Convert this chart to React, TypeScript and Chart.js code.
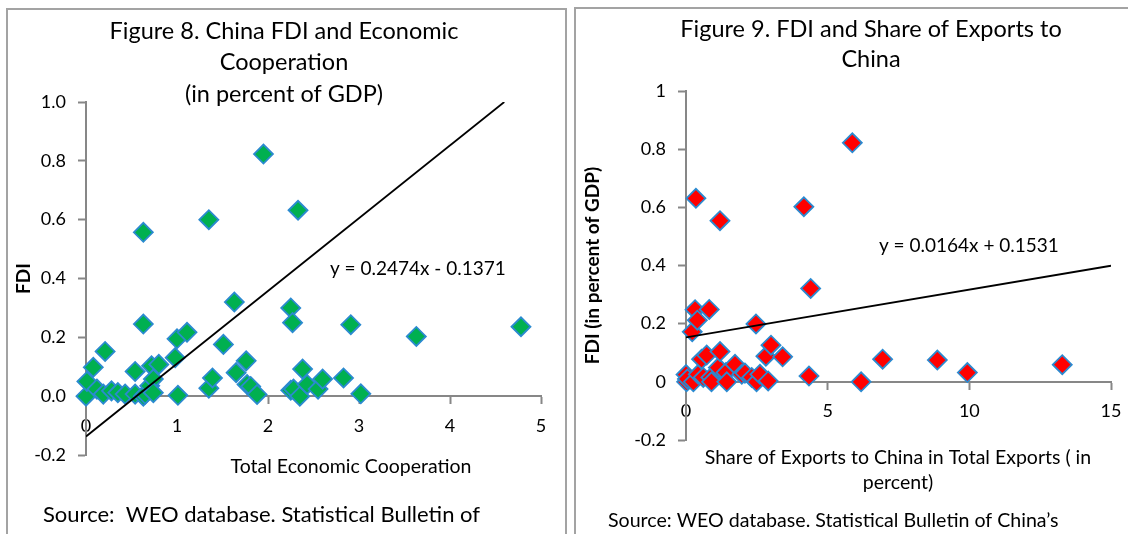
import React, { useEffect, useRef } from "react";
import { Chart, registerables } from "chart.js";

Chart.register(...registerables);

const FONT = "Lato, 'Noto Sans', sans-serif";

// ---------- Figure 8 data ----------
const fig8Title = ["Figure 8. China FDI and Economic", "Cooperation", "(in percent of GDP)"];
const fig8XTitle = ["Total Economic Cooperation"];
const fig8YTitle = "FDI";
const fig8Source = "Source:  WEO database. Statistical Bulletin of";
const fig8Equation = "y = 0.2474x - 0.1371";
const fig8XTicks = [0, 1, 2, 3, 4, 5];
const fig8YTicks = [-0.2, 0, 0.2, 0.4, 0.6, 0.8, 1.0];
const fig8Coop = [
  0.0, 0.01, 0.08, 0.12, 0.19, 0.21, 0.28, 0.35, 0.43, 0.54,
  0.54, 0.63, 0.63, 0.63, 0.65, 0.7, 0.72, 0.74, 0.74, 0.8,
  0.98, 1.0, 1.01, 1.11, 1.35, 1.35, 1.39, 1.51, 1.63, 1.65,
  1.76, 1.77, 1.81, 1.88, 1.95, 2.25, 2.25, 2.27, 2.28, 2.33,
  2.35, 2.38, 2.43, 2.55, 2.6, 2.83, 2.91, 3.02, 3.63, 4.78,
];
const fig8Fdi = [
  0.0, 0.05, 0.098, 0.024, 0.007, 0.152, 0.018, 0.012, 0.007, 0.084,
  0.007, 0.557, 0.245, 0.0, 0.007, 0.035, 0.103, 0.058, 0.012, 0.108,
  0.131, 0.195, 0.003, 0.217, 0.6, 0.027, 0.062, 0.176, 0.32, 0.08,
  0.12, 0.04, 0.033, 0.006, 0.823, 0.3, 0.02, 0.25, 0.024, 0.632,
  0.0, 0.092, 0.04, 0.024, 0.058, 0.062, 0.243, 0.008, 0.203, 0.236,
];
const fig8Slope = 0.2474;
const fig8Intercept = -0.1371;
const fig8TrendX = [0, 4.596];

// ---------- Figure 9 data ----------
const fig9Title = ["Figure 9. FDI and Share of Exports to", "China"];
const fig9XTitle = ["Share of Exports to China in Total Exports ( in", "percent)"];
const fig9YTitle = "FDI (in percent of GDP)";
const fig9Source = "Source: WEO database. Statistical Bulletin of China\u2019s";
const fig9Equation = "y = 0.0164x + 0.1531";
const fig9XTicks = [0, 5, 10, 15];
const fig9YTicks = [-0.2, 0, 0.2, 0.4, 0.6, 0.8, 1];
const fig9Share = [
  0.0, 0.02, 0.05, 0.22, 0.26, 0.32, 0.35, 0.4, 0.43, 0.61,
  0.55, 0.73, 0.82, 0.88, 0.9, 1.14, 1.2, 1.2, 1.41, 1.44,
  1.73, 1.97, 2.08, 2.32, 2.47, 2.49, 2.61, 2.82, 2.9, 3.0,
  3.41, 4.16, 4.34, 4.4, 5.87, 6.18, 6.94, 8.87, 9.93, 13.28,
];
const fig9Fdi = [
  0.025, 0.0, 0.01, 0.172, 0.0, 0.248, 0.631, 0.212, 0.026, 0.015,
  0.078, 0.092, 0.249, 0.015, 0.0, 0.049, 0.554, 0.104, 0.032, 0.0,
  0.06, 0.026, 0.03, 0.015, 0.199, 0.0, 0.026, 0.088, 0.003, 0.126,
  0.086, 0.602, 0.02, 0.321, 0.822, 0.0, 0.078, 0.075, 0.032, 0.059,
];
const fig9Slope = 0.0164;
const fig9Intercept = 0.1531;
const fig9TrendX = [0, 15];

const AXIS = "#878787";
const MARKER_BORDER = "#2b8ad0";

type PanelCfg = {
  xs: number[];
  ys: number[];
  fill: string;
  slope: number;
  intercept: number;
  trendX: number[];
  xTicks: number[];
  yTicks: number[];
  yFmt: (v: number) => string;
  yTitle: string;
  yWidth: number;
  yTitlePad: number;
  padding: { left: number; top: number; right: number; bottom: number };
  title: string[];
  titleX: number;
  titleY: number;
  titleGap: number;
  titleSize: number;
  xTitle: string[];
  xTitleX: number;
  xTitleY: number;
  xTitleGap: number;
  xTitleSize: number;
  equation: string;
  eqX: number;
  eqY: number;
  source: string;
  sourceX: number;
  sourceY: number;
  sourceSize: number;
  width: number;
  height: number;
};

function ScatterPanel({ cfg }: { cfg: PanelCfg }) {
  const ref = useRef<HTMLCanvasElement | null>(null);
  useEffect(() => {
    if (!ref.current) return;
    const textPlugin = {
      id: "panelText",
      afterDraw(chart: any) {
        const ctx = chart.ctx as CanvasRenderingContext2D;
        ctx.save();
        ctx.fillStyle = "#000";
        ctx.textBaseline = "middle";
        ctx.textAlign = "center";
        ctx.font = `${cfg.titleSize}px ${FONT}`;
        cfg.title.forEach((t, i) => ctx.fillText(t, cfg.titleX, cfg.titleY + i * cfg.titleGap));
        ctx.font = `${cfg.xTitleSize}px ${FONT}`;
        cfg.xTitle.forEach((t, i) => ctx.fillText(t, cfg.xTitleX, cfg.xTitleY + i * cfg.xTitleGap));
        ctx.textAlign = "left";
        ctx.font = `19px ${FONT}`;
        ctx.fillText(cfg.equation, chart.scales.x.getPixelForValue(cfg.eqX), chart.scales.y.getPixelForValue(cfg.eqY));
        ctx.font = `${cfg.sourceSize}px ${FONT}`;
        ctx.fillText(cfg.source, cfg.sourceX, cfg.sourceY);
        ctx.restore();
      },
    };
    const chart = new Chart(ref.current, {
      type: "scatter",
      data: {
        datasets: [
          {
            type: "line",
            data: cfg.trendX.map((x) => ({ x, y: cfg.slope * x + cfg.intercept })),
            borderColor: "#000",
            borderWidth: 1.8,
            pointRadius: 0,
            showLine: true,
            fill: false,
            order: 0,
          } as any,
          {
            type: "scatter",
            data: cfg.xs.map((x, i) => ({ x, y: cfg.ys[i] })),
            pointStyle: "rectRot",
            pointRadius: 9.5,
            pointHoverRadius: 9.5,
            backgroundColor: cfg.fill,
            borderColor: MARKER_BORDER,
            borderWidth: 1.8,
            clip: false,
            order: 1,
          } as any,
        ],
      },
      options: {
        animation: false,
        responsive: false,
        events: [],
        layout: { padding: cfg.padding },
        plugins: { legend: { display: false }, tooltip: { enabled: false }, title: { display: false } },
        scales: {
          x: {
            type: "linear",
            min: cfg.xTicks[0],
            max: cfg.xTicks[cfg.xTicks.length - 1],
            position: { y: 0 } as any,
            afterBuildTicks: (s: any) => {
              s.ticks = cfg.xTicks.map((v) => ({ value: v }));
            },
            afterFit: (s: any) => {
              s.paddingLeft = 0;
              s.paddingRight = 0;
            },
            grid: { display: true, drawOnChartArea: false, drawTicks: true, tickLength: 7, tickColor: AXIS, tickWidth: 2 },
            border: { display: true, color: AXIS, width: 2 },
            ticks: { color: "#000", font: { family: FONT, size: 18 }, padding: 12, maxRotation: 0, autoSkip: false },
          },
          y: {
            type: "linear",
            min: cfg.yTicks[0],
            max: cfg.yTicks[cfg.yTicks.length - 1],
            afterBuildTicks: (s: any) => {
              s.ticks = cfg.yTicks.map((v) => ({ value: v }));
            },
            afterFit: (s: any) => {
              s.width = cfg.yWidth;
              s.paddingTop = 0;
              s.paddingBottom = 0;
            },
            grid: { display: true, drawOnChartArea: false, drawTicks: true, tickLength: 8, tickColor: AXIS, tickWidth: 2 },
            border: { display: true, color: AXIS, width: 2 },
            ticks: {
              color: "#000",
              font: { family: FONT, size: 18 },
              padding: 12,
              autoSkip: false,
              callback: (v: any) => cfg.yFmt(Number(v)),
            },
            title: {
              display: true,
              text: cfg.yTitle,
              color: "#000",
              font: { family: FONT, size: 19, weight: "bold" },
              padding: { top: cfg.yTitlePad, bottom: 0 },
            },
          },
        },
      },
      plugins: [textPlugin],
    });
    return () => chart.destroy();
  }, [cfg]);
  return <canvas ref={ref} width={cfg.width} height={cfg.height} style={{ display: "block", width: cfg.width, height: cfg.height }} />;
}

const fig8Cfg: PanelCfg = {
  xs: fig8Coop,
  ys: fig8Fdi,
  fill: "#00b050",
  slope: fig8Slope,
  intercept: fig8Intercept,
  trendX: fig8TrendX,
  xTicks: fig8XTicks,
  yTicks: fig8YTicks,
  yFmt: (v) => v.toFixed(1),
  yTitle: fig8YTitle,
  yWidth: 78,
  yTitlePad: 4.5,
  padding: { left: 0, top: 92, right: 24, bottom: 79 },
  title: fig8Title,
  titleX: 276,
  titleY: 21,
  titleGap: 31.5,
  titleSize: 23.5,
  xTitle: fig8XTitle,
  xTitleX: 343,
  xTitleY: 457,
  xTitleGap: 25,
  xTitleSize: 19.5,
  equation: fig8Equation,
  eqX: 2.68,
  eqY: 0.432,
  source: fig8Source,
  sourceX: 35,
  sourceY: 505,
  sourceSize: 22,
  width: 557,
  height: 524,
};

const fig9Cfg: PanelCfg = {
  xs: fig9Share,
  ys: fig9Fdi,
  fill: "#ff0000",
  slope: fig9Slope,
  intercept: fig9Intercept,
  trendX: fig9TrendX,
  xTicks: fig9XTicks,
  yTicks: fig9YTicks,
  yFmt: (v) => String(Number(v.toFixed(1))),
  yTitle: fig9YTitle,
  yWidth: 110,
  yTitlePad: 5.5,
  padding: { left: 0, top: 81, right: 17, bottom: 94 },
  title: fig9Title,
  titleX: 295,
  titleY: 19,
  titleGap: 30.5,
  titleSize: 23.5,
  xTitle: fig9XTitle,
  xTitleX: 322,
  xTitleY: 448,
  xTitleGap: 25,
  xTitleSize: 19.5,
  equation: fig9Equation,
  eqX: 6.81,
  eqY: 0.468,
  source: fig9Source,
  sourceX: 32,
  sourceY: 510.5,
  sourceSize: 19.6,
  width: 552,
  height: 524,
};

export default function App() {
  useEffect(() => {
    document.body.style.overflow = "hidden";
  }, []);
  const border = "2px solid #a3a3a3";
  return (
    <div>
      <div
        style={{
          position: "absolute",
          left: 6,
          top: 8,
          width: 561,
          height: 526,
          boxSizing: "border-box",
          borderTop: border,
          borderLeft: border,
          borderRight: border,
          background: "#fff",
        }}
      />
      <div
        style={{
          position: "absolute",
          left: 574,
          top: 7,
          width: 554,
          height: 527,
          boxSizing: "border-box",
          borderTop: border,
          borderLeft: border,
          background: "#fff",
        }}
      />
      <div style={{ position: "absolute", left: 8, top: 10 }}>
        <ScatterPanel cfg={fig8Cfg} />
      </div>
      <div style={{ position: "absolute", left: 576, top: 10 }}>
        <ScatterPanel cfg={fig9Cfg} />
      </div>
    </div>
  );
}
